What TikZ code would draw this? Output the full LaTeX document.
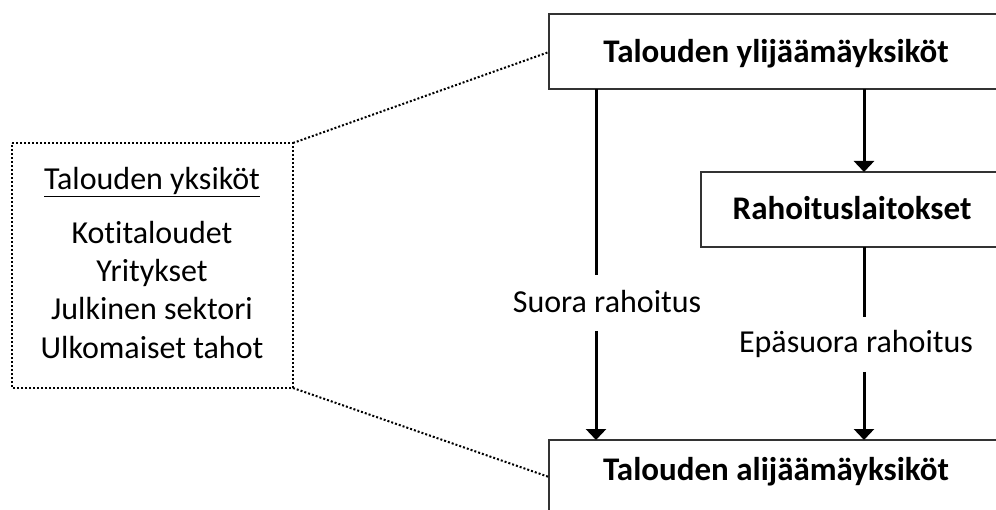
\documentclass[tikz,border=0pt]{standalone}
\usepackage{fontspec}
\setmainfont{Carlito}[Ligatures=NoCommon]
\usetikzlibrary{arrows.meta}
\begin{document}
\begin{tikzpicture}[x=1pt,y=-1pt,
  unitbox/.style={draw=black!80,line width=1.3pt,fill=white},
  flow/.style={line width=3pt,-{Triangle[width=20pt,length=11pt]}},
  plainline/.style={line width=3pt},
  link/.style={line width=2pt,dash pattern=on 2pt off 2pt},
  boldlabel/.style={font=\fontsize{33}{38}\selectfont\bfseries,anchor=base,inner sep=0pt},
  lbl/.style={font=\fontsize{32}{38}\selectfont,anchor=base,inner sep=0pt}]
\useasboundingbox (0,0) rectangle (996,510);
\begin{scope}
\clip (0,0) rectangle (996,510);

% the three sector boxes (they run past the right edge)
\draw[unitbox] (549,14) rectangle (1004,89);
\draw[unitbox] (701,172) rectangle (1004,247);
\draw[unitbox] (549,440) rectangle (1004,530);
\node[boldlabel] (yli) at (776,63) {Talouden ylijäämäyksiköt};
\node[boldlabel] (rah) at (852,220) {Rahoituslaitokset};
\node[boldlabel] (ali) at (776,480) {Talouden alijäämäyksiköt};

% flow arrows
\coordinate (a1) at (596,89);
\coordinate (a2) at (596,275);
\coordinate (a3) at (596,331);
\coordinate (a4) at (596,440);
\coordinate (b1) at (864,89);
\coordinate (b2) at (864,172);
\coordinate (b3) at (864,247);
\coordinate (b4) at (864,317);
\coordinate (b5) at (864,372);
\coordinate (b6) at (864,440);
\draw[plainline] (a1) -- (a2);
\draw[flow] (a3) -- (a4);
\draw[flow] (b1) -- (b2);
\draw[plainline] (b3) -- (b4);
\draw[flow] (b5) -- (b6);
\node[lbl] (suora) at (607,313) {Suora rahoitus};
\node[lbl] (epa) at (856,353) {Epäsuora rahoitus};

% dotted box of economic units
\coordinate (dtl) at (12,143);
\coordinate (dtr) at (293,143);
\coordinate (dbr) at (293,388);
\coordinate (dbl) at (12,388);
\draw[link] (dtl) -- (dtr) -- (dbr) -- (dbl) -- cycle;
\coordinate (yl) at (549,52);
\coordinate (al) at (549,477);
\draw[link] (dtr) -- (yl);
\draw[link] (dbr) -- (al);
\node[lbl] (t0) at (152,190) {\underline{Talouden yksiköt}};
\node[lbl] (t1) at (152,244) {Kotitaloudet};
\node[lbl] (t2) at (152,282) {Yritykset};
\node[lbl] (t3) at (152,320) {Julkinen sektori};
\node[lbl] (t4) at (152,359) {Ulkomaiset tahot};
\end{scope}
\end{tikzpicture}
\end{document}
